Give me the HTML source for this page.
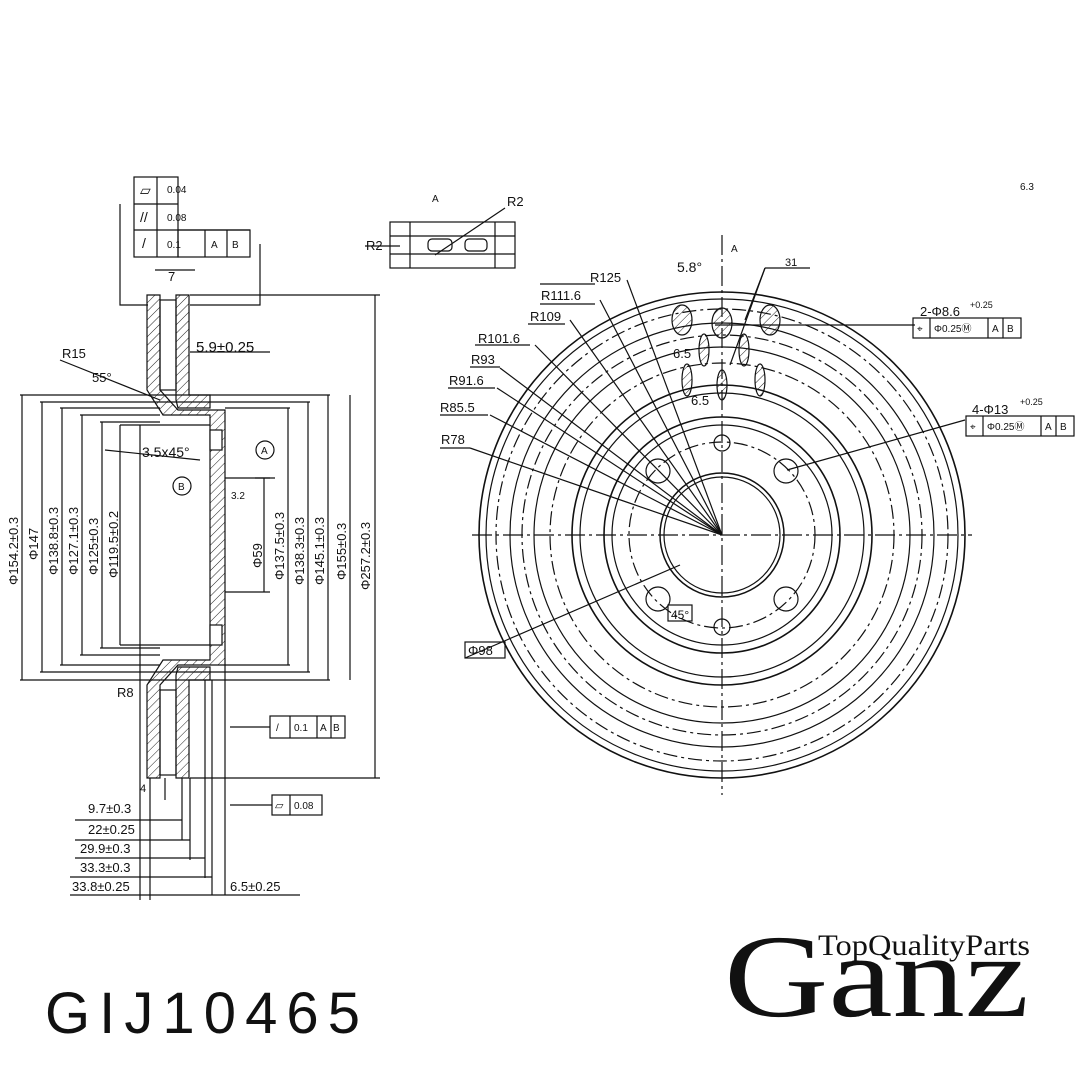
<!DOCTYPE html>
<html><head><meta charset="utf-8"><style>
html,body{margin:0;padding:0;background:#fff;width:1080px;height:1080px;overflow:hidden}
svg{position:absolute;left:0;top:0}
text{font-family:"Liberation Sans",sans-serif;fill:#111}
</style></head><body>
<svg width="1080" height="1080" viewBox="0 0 1080 1080">
<defs>
<pattern id="h" width="6" height="6" patternUnits="userSpaceOnUse" patternTransform="rotate(45)"><line x1="0" y1="0" x2="0" y2="6" stroke="#222" stroke-width="1"/></pattern>
</defs>
<g stroke="#111" fill="none" stroke-width="1.2">
<rect x="134" y="177" width="44" height="80"/>
<line x1="134" y1="204" x2="178" y2="204"/><line x1="134" y1="230" x2="250" y2="230"/>
<line x1="157" y1="177" x2="157" y2="257"/><rect x="178" y="230" width="72" height="27"/><line x1="205" y1="230" x2="205" y2="257"/><line x1="227" y1="230" x2="227" y2="257"/>
<polyline points="120,204 120,305 148,305"/><polyline points="260,244 260,305 190,305"/>
<path d="M147,295 L160,295 L160,390 L178,410 L225,410 L225,665 L178,665 L160,685 L160,778 L147,778 L147,685 L163,660 L210,660 L210,415 L163,415 L147,390 Z" fill="url(#h)"/>
<path d="M176,295 L189,295 L189,395 L210,395 L210,408 L178,408 L176,400 Z" fill="url(#h)"/>
<path d="M176,778 L189,778 L189,680 L210,680 L210,667 L178,667 L176,675 Z" fill="url(#h)"/>
<rect x="160" y="300" width="16" height="90"/><rect x="160" y="690" width="16" height="85"/>
<rect x="210" y="430" width="12" height="20" fill="#fff"/><rect x="210" y="625" width="12" height="20" fill="#fff"/>
<line x1="20" y1="395" x2="330" y2="395"/><line x1="40" y1="402" x2="310" y2="402"/>
<line x1="60" y1="408" x2="160" y2="408"/><line x1="80" y1="415" x2="160" y2="415"/><line x1="100" y1="422" x2="160" y2="422"/>
<line x1="20" y1="680" x2="330" y2="680"/><line x1="40" y1="672" x2="310" y2="672"/>
<line x1="60" y1="665" x2="160" y2="665"/><line x1="80" y1="655" x2="160" y2="655"/><line x1="100" y1="648" x2="160" y2="648"/>
<line x1="225" y1="408" x2="290" y2="408"/><line x1="225" y1="665" x2="290" y2="665"/>
<line x1="225" y1="478" x2="270" y2="478"/><line x1="225" y1="592" x2="270" y2="592"/>
<line x1="190" y1="295" x2="380" y2="295"/><line x1="190" y1="778" x2="380" y2="778"/>
<line x1="22" y1="395" x2="22" y2="680"/><line x1="42" y1="402" x2="42" y2="672"/><line x1="62" y1="408" x2="62" y2="665"/>
<line x1="82" y1="415" x2="82" y2="655"/><line x1="102" y1="422" x2="102" y2="648"/><line x1="120" y1="425" x2="120" y2="645"/>
<line x1="264" y1="478" x2="264" y2="592"/><line x1="288" y1="408" x2="288" y2="665"/><line x1="308" y1="402" x2="308" y2="672"/>
<line x1="328" y1="395" x2="328" y2="680"/><line x1="350" y1="395" x2="350" y2="680"/><line x1="375" y1="295" x2="375" y2="778"/>
<line x1="120" y1="425" x2="210" y2="425"/><line x1="120" y1="645" x2="210" y2="645"/>
<line x1="140" y1="425" x2="140" y2="900"/><line x1="150" y1="778" x2="150" y2="900"/><line x1="165" y1="778" x2="165" y2="800"/>
<line x1="182" y1="778" x2="182" y2="840"/><line x1="190" y1="778" x2="190" y2="860"/><line x1="205" y1="680" x2="205" y2="878"/>
<line x1="212" y1="680" x2="212" y2="895"/><line x1="225" y1="665" x2="225" y2="895"/>
<line x1="75" y1="820" x2="182" y2="820"/><line x1="75" y1="840" x2="190" y2="840"/><line x1="75" y1="858" x2="205" y2="858"/>
<line x1="70" y1="877" x2="212" y2="877"/><line x1="70" y1="895" x2="225" y2="895"/><line x1="225" y1="895" x2="300" y2="895"/>
<line x1="60" y1="360" x2="160" y2="400"/><line x1="105" y1="450" x2="200" y2="460"/>
<line x1="155" y1="270" x2="195" y2="270"/><line x1="230" y1="727" x2="270" y2="727"/><line x1="230" y1="805" x2="272" y2="805"/>
<line x1="190" y1="352" x2="270" y2="352"/>
<circle cx="265" cy="450" r="9"/><circle cx="182" cy="486" r="9"/>
<line x1="255" y1="478" x2="275" y2="478"/>
<rect x="270" y="716" width="75" height="22"/><line x1="290" y1="716" x2="290" y2="738"/><line x1="317" y1="716" x2="317" y2="738"/><line x1="331" y1="716" x2="331" y2="738"/>
<rect x="272" y="795" width="50" height="20"/><line x1="290" y1="795" x2="290" y2="815"/>
<rect x="390" y="222" width="125" height="46"/><line x1="390" y1="236" x2="515" y2="236"/><line x1="390" y1="254" x2="515" y2="254"/>
<rect x="428" y="239" width="24" height="12" rx="4"/><rect x="465" y="239" width="22" height="12" rx="4"/>
<line x1="410" y1="222" x2="410" y2="268"/><line x1="495" y1="222" x2="495" y2="268"/>
<line x1="435" y1="255" x2="505" y2="208"/><line x1="365" y1="246" x2="400" y2="246"/>
<g transform="translate(722,535)">
<circle r="243" stroke-width="1.6"/><circle r="236"/><circle r="226" stroke-dasharray="14,4,3,4"/>
<circle r="212"/><circle r="200" stroke-dasharray="14,4,3,4"/><circle r="188"/><circle r="172" stroke-dasharray="14,4,3,4"/>
<circle r="150" stroke-width="1.6"/><circle r="142"/><circle r="118" stroke-width="1.6"/><circle r="110"/>
<circle r="93" stroke-dasharray="14,4,3,4"/><circle r="62" stroke-width="1.5"/><circle r="58"/>
<circle cx="-64" cy="-64" r="12"/><circle cx="64" cy="-64" r="12"/><circle cx="-64" cy="64" r="12"/><circle cx="64" cy="64" r="12"/>
<circle cx="0" cy="-92" r="8"/><circle cx="0" cy="92" r="8"/>
<line x1="-250" y1="0" x2="250" y2="0" stroke-dasharray="20,4,3,4"/><line x1="0" y1="-300" x2="0" y2="260" stroke-dasharray="20,4,3,4"/>
<ellipse cx="-40" cy="-215" rx="10" ry="15" fill="url(#h)"/><ellipse cx="0" cy="-212" rx="10" ry="15" fill="url(#h)"/><ellipse cx="48" cy="-215" rx="10" ry="15" fill="url(#h)"/>
<ellipse cx="-18" cy="-185" rx="5" ry="16" fill="url(#h)"/><ellipse cx="22" cy="-185" rx="5" ry="16" fill="url(#h)"/>
<ellipse cx="-35" cy="-155" rx="5" ry="16" fill="url(#h)"/><ellipse cx="0" cy="-150" rx="5" ry="15" fill="url(#h)"/><ellipse cx="38" cy="-155" rx="5" ry="16" fill="url(#h)"/>
</g>
<line x1="627" y1="280" x2="722" y2="535"/><line x1="600" y1="300" x2="722" y2="535"/><line x1="570" y1="320" x2="722" y2="535"/>
<line x1="535" y1="345" x2="722" y2="535"/><line x1="500" y1="368" x2="722" y2="535"/><line x1="497" y1="388" x2="722" y2="535"/>
<line x1="490" y1="415" x2="722" y2="535"/><line x1="470" y1="448" x2="722" y2="535"/>
<line x1="540" y1="284" x2="595" y2="284"/><line x1="540" y1="304" x2="595" y2="304"/><line x1="528" y1="324" x2="565" y2="324"/>
<line x1="475" y1="345" x2="530" y2="345"/><line x1="470" y1="367" x2="500" y2="367"/><line x1="448" y1="388" x2="495" y2="388"/>
<line x1="440" y1="415" x2="488" y2="415"/><line x1="440" y1="448" x2="470" y2="448"/>
<line x1="465" y1="658" x2="680" y2="565"/><rect x="465" y="642" width="40" height="16"/>
<line x1="715" y1="325" x2="915" y2="325"/><line x1="787" y1="470" x2="965" y2="420"/>
<rect x="913" y="318" width="108" height="20"/><line x1="930" y1="318" x2="930" y2="338"/><line x1="988" y1="318" x2="988" y2="338"/><line x1="1003" y1="318" x2="1003" y2="338"/>
<rect x="966" y="416" width="108" height="20"/><line x1="983" y1="416" x2="983" y2="436"/><line x1="1041" y1="416" x2="1041" y2="436"/><line x1="1056" y1="416" x2="1056" y2="436"/>
<line x1="765" y1="268" x2="810" y2="268"/><line x1="765" y1="268" x2="745" y2="320"/><line x1="765" y1="268" x2="730" y2="365"/>
<rect x="668" y="605" width="24" height="16"/>
</g>
<g font-size="13">
<text x="167" y="193" font-size="10">0.04</text><text x="167" y="221" font-size="10">0.08</text>
<text x="167" y="248" font-size="10">0.1</text><text x="211" y="248" font-size="10">A</text><text x="232" y="248" font-size="10">B</text>
<text x="140" y="195" font-size="14">▱</text><text x="140" y="222" font-size="14">//</text><text x="142" y="248" font-size="14">/</text>
<text x="168" y="281">7</text><text x="196" y="352" font-size="15">5.9±0.25</text>
<text x="62" y="358">R15</text><text x="92" y="382">55°</text>
<text x="142" y="457" font-size="14">3.5x45°</text>
<text x="261" y="454" font-size="10">A</text><text x="178" y="490" font-size="10">B</text><text x="231" y="499" font-size="10">3.2</text>
<text x="117" y="697">R8</text><text x="140" y="792" font-size="11">4</text>
<text x="88" y="813">9.7±0.3</text><text x="88" y="834">22±0.25</text><text x="80" y="853">29.9±0.3</text>
<text x="80" y="872">33.3±0.3</text><text x="72" y="891">33.8±0.25</text><text x="230" y="891">6.5±0.25</text>
<text x="276" y="731" font-size="10">/</text><text x="294" y="731" font-size="10">0.1</text><text x="320" y="731" font-size="10">A</text><text x="333" y="731" font-size="10">B</text>
<text x="275" y="809" font-size="11">▱</text><text x="294" y="809" font-size="10">0.08</text>
<text x="366" y="250">R2</text><text x="507" y="206">R2</text><text x="432" y="202" font-size="10">A</text><text x="731" y="252" font-size="10">A</text>
<text x="590" y="282">R125</text><text x="541" y="300">R111.6</text><text x="530" y="321">R109</text>
<text x="478" y="343">R101.6</text><text x="471" y="364">R93</text><text x="449" y="385">R91.6</text>
<text x="440" y="412">R85.5</text><text x="441" y="444">R78</text><text x="468" y="655">Φ98</text>
<text x="677" y="272" font-size="14">5.8°</text><text x="785" y="266" font-size="11">31</text><text x="1020" y="190" font-size="10">6.3</text>
<text x="673" y="358">6.5</text><text x="691" y="405">6.5</text><text x="671" y="619" font-size="12">45°</text>
<text x="920" y="316" font-size="13">2-Φ8.6</text><text x="970" y="308" font-size="9">+0.25</text>
<text x="917" y="332" font-size="10">⌖</text><text x="934" y="332" font-size="10">Φ0.25Ⓜ</text><text x="992" y="332" font-size="10">A</text><text x="1007" y="332" font-size="10">B</text>
<text x="972" y="414" font-size="13">4-Φ13</text><text x="1020" y="405" font-size="9">+0.25</text>
<text x="970" y="430" font-size="10">⌖</text><text x="987" y="430" font-size="10">Φ0.25Ⓜ</text><text x="1045" y="430" font-size="10">A</text><text x="1060" y="430" font-size="10">B</text>
<text transform="translate(18,585) rotate(-90)">Φ154.2±0.3</text>
<text transform="translate(38,560) rotate(-90)">Φ147</text>
<text transform="translate(58,575) rotate(-90)">Φ138.8±0.3</text>
<text transform="translate(78,575) rotate(-90)">Φ127.1±0.3</text>
<text transform="translate(98,575) rotate(-90)">Φ125±0.3</text>
<text transform="translate(118,578) rotate(-90)">Φ119.5±0.2</text>
<text transform="translate(262,568) rotate(-90)">Φ59</text>
<text transform="translate(284,580) rotate(-90)">Φ137.5±0.3</text>
<text transform="translate(304,585) rotate(-90)">Φ138.3±0.3</text>
<text transform="translate(324,585) rotate(-90)">Φ145.1±0.3</text>
<text transform="translate(346,580) rotate(-90)">Φ155±0.3</text>
<text transform="translate(370,590) rotate(-90)">Φ257.2±0.3</text>
</g>
<text x="45" y="1033" font-size="58" textLength="315" lengthAdjust="spacing" fill="#111">GIJ10465</text>
<text x="818" y="955" font-size="30" textLength="212" lengthAdjust="spacingAndGlyphs" style="font-family:'Liberation Serif',serif">TopQualityParts</text>
<text x="724" y="1016" font-size="118" textLength="305" lengthAdjust="spacingAndGlyphs" style="font-family:'Liberation Serif',serif">Ganz</text>
</svg>
</body></html>
